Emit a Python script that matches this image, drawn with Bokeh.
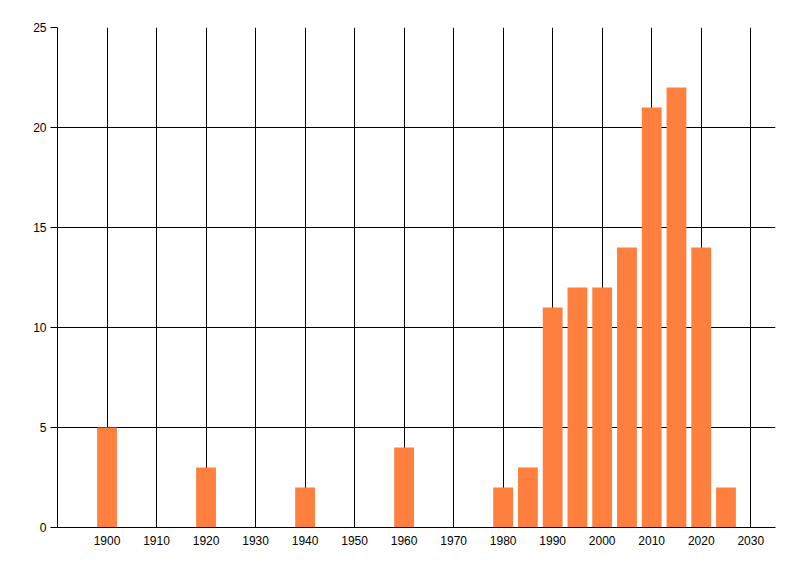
from bokeh.plotting import figure
from bokeh.models import Range1d, FixedTicker, ColumnDataSource
from bokeh.embed import file_html
from bokeh.resources import INLINE

years = [1900, 1920, 1940, 1960, 1980, 1985, 1990, 1995, 2000, 2005, 2010, 2015, 2020, 2025]
counts = [5, 3, 2, 4, 2, 3, 11, 12, 12, 14, 21, 22, 14, 2]
x_ticks = list(range(1900, 2031, 10))
y_ticks = [0, 5, 10, 15, 20, 25]

src = ColumnDataSource(dict(x=years, top=counts))

p = figure(width=792, height=568, output_backend="svg", toolbar_location=None,
           x_range=Range1d(1890, 2035), y_range=Range1d(0, 25),
           min_border_left=57, min_border_right=17, min_border_top=27, min_border_bottom=41)
p.outline_line_color = None
p.background_fill_color = "white"
p.border_fill_color = "white"

p.vbar(x="x", top="top", width=4, source=src, fill_color="#FF7F3F", line_color=None)

p.xaxis.ticker = FixedTicker(ticks=x_ticks)
p.yaxis.ticker = FixedTicker(ticks=y_ticks)
p.xgrid.ticker = FixedTicker(ticks=x_ticks)
p.ygrid.ticker = FixedTicker(ticks=y_ticks)
for g in (p.xgrid, p.ygrid):
    g.grid_line_color = "black"
    g.grid_line_width = 1
    g.grid_line_alpha = 1.0
for ax in (p.xaxis, p.yaxis):
    ax.axis_line_color = "black"
    ax.minor_tick_line_color = None
    ax.major_label_text_font = "Liberation Sans"
    ax.major_label_text_font_size = "12px"
    ax.major_label_text_color = "black"
p.xaxis.major_tick_line_color = None
p.xaxis.major_tick_out = 0
p.xaxis.major_tick_in = 0
p.xaxis.major_label_standoff = 8
p.yaxis.major_tick_out = 7
p.yaxis.major_tick_in = 0
p.yaxis.major_tick_line_color = "black"
p.yaxis.major_label_standoff = 4

open("out.html", "w").write(file_html(p, INLINE))
